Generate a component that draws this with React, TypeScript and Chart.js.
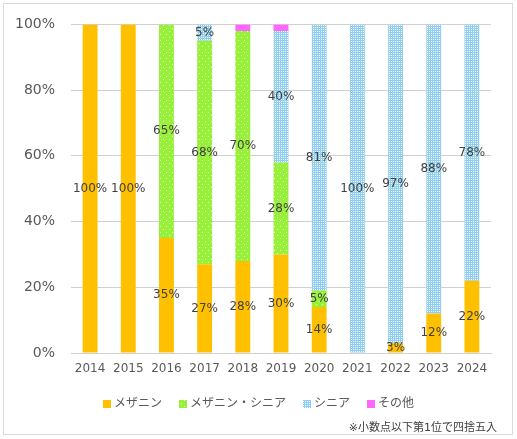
import React, { useEffect, useRef } from "react";
import { Chart, registerables } from "chart.js";

Chart.register(...registerables);

const categories = ["2014", "2015", "2016", "2017", "2018", "2019", "2020", "2021", "2022", "2023", "2024"];
const mezzanine = [100, 100, 35, 27, 28, 30, 14, 0, 3, 12, 22];
const mezzSenior = [0, 0, 65, 68, 70, 28, 5, 0, 0, 0, 0];
const senior = [0, 0, 0, 5, 0, 40, 81, 100, 97, 88, 78];
const others = [0, 0, 0, 0, 2, 2, 0, 0, 0, 0, 0];
const seriesNames = ["メザニン", "メザニン・シニア", "シニア", "その他"];
const yTicks = [0, 20, 40, 60, 80, 100];
const footnote = "※小数点以下第1位で四捨五入";

const FONT = "'DejaVu Sans', 'Noto Sans CJK JP', sans-serif";

function makePattern(base: string, dot: string, size: number, dots: number[][]) {
  const c = document.createElement("canvas");
  c.width = size;
  c.height = size;
  const g = c.getContext("2d")!;
  g.fillStyle = base;
  g.fillRect(0, 0, size, size);
  g.fillStyle = dot;
  dots.forEach(([x, y]) => g.fillRect(x, y, 1, 1));
  return g.createPattern(c, "repeat")!;
}

export default function App() {
  const ref = useRef<HTMLCanvasElement>(null);
  useEffect(() => {
    document.body.style.margin = "0";
    const canvas = ref.current!;
    const ctx = canvas.getContext("2d")!;
    const greenPat = makePattern("#99f03a", "#d9ffb8", 6, [[1, 1], [4, 4]]);
    const bluePat = makePattern("#8ccff3", "#ffffff", 2, [[1, 1]]);
    const colors: any[] = ["#ffc000", greenPat, bluePat, "#ff66ff"];

    const labelPlugin = {
      id: "segLabels",
      afterDatasetsDraw(chart: any) {
        const c = chart.ctx;
        c.save();
        c.font = `12px ${FONT}`;
        c.fillStyle = "#404040";
        c.textAlign = "center";
        c.textBaseline = "middle";
        chart.data.datasets.forEach((ds: any, di: number) => {
          if (di > 2) return;
          const meta = chart.getDatasetMeta(di);
          meta.data.forEach((el: any, i: number) => {
            const v = ds.data[i];
            if (!v) return;
            const yc = (el.y + el.base) / 2;
            c.fillText(`${v}%`, el.x, yc);
          });
        });
        c.restore();
      },
      afterDraw(chart: any) {
        const c = chart.ctx;
        c.save();
        c.strokeStyle = "#d9d9d9";
        c.lineWidth = 1;
        c.strokeRect(3.5, 3.5, 509, 431);
        c.font = `12px ${FONT}`;
        c.textBaseline = "middle";
        c.textAlign = "left";
        const widths = seriesNames.map((n) => c.measureText(n).width);
        const box = 8, gap = 3, spacing = 17;
        const total = widths.reduce((a: number, w: number) => a + box + gap + w, 0) + spacing * (seriesNames.length - 1);
        let x = chart.width / 2 - total / 2;
        const y = 404;
        seriesNames.forEach((n, i) => {
          c.fillStyle = colors[i];
          c.fillRect(x, y - 4, box, box);
          c.fillStyle = "#595959";
          c.fillText(n, x + box + gap, y);
          x += box + gap + widths[i] + spacing;
        });
        c.font = `11px ${FONT}`;
        c.textAlign = "right";
        c.fillStyle = "#404040";
        c.fillText(footnote, 497, 428);
        c.restore();
      },
    };

    const chart = new Chart(ctx, {
      type: "bar",
      data: {
        labels: categories,
        datasets: [mezzanine, mezzSenior, senior, others].map((d, i) => ({
          label: seriesNames[i],
          data: d,
          backgroundColor: colors[i],
          borderWidth: 0,
          barPercentage: 0.39,
          categoryPercentage: 1,
        })),
      },
      options: {
        animation: false,
        responsive: false,
        events: [],
        layout: { padding: { left: 0, top: 24, right: 26, bottom: 56 } },
        plugins: { legend: { display: false }, tooltip: { enabled: false } },
        scales: {
          x: {
            stacked: true,
            grid: { display: false, drawTicks: false },
            border: { color: "#d0d0d0", width: 1 },
            ticks: { color: "#595959", font: { family: FONT, size: 12 }, padding: 9 },
            afterFit(s: any) { s.height = 30; },
          },
          y: {
            stacked: true,
            min: 0,
            max: 100,
            afterBuildTicks(s: any) { s.ticks = yTicks.map((v) => ({ value: v })); },
            grid: { color: "#d0d0d0", lineWidth: 1, drawTicks: false },
            border: { display: false },
            ticks: {
              color: "#595959",
              font: { family: FONT, size: 14 },
              padding: 16,
              callback: (v: any) => `${v}%`,
            },
            afterFit(s: any) { s.width = 71; },
          },
        },
      },
      plugins: [labelPlugin],
    });
    return () => chart.destroy();
  }, []);
  return <canvas ref={ref} width={517} height={439} style={{ display: "block" }} />;
}
